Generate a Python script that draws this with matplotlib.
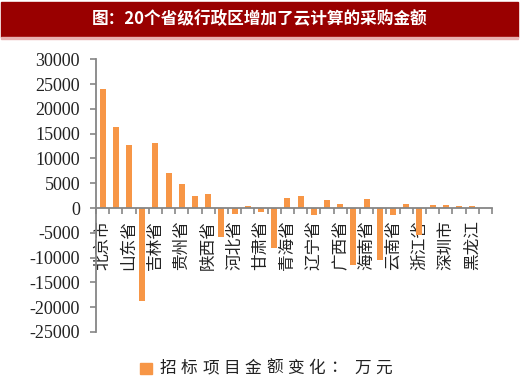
import matplotlib
matplotlib.use('Agg')
import matplotlib.pyplot as plt
import numpy as np
from matplotlib.patches import Rectangle

plt.rcParams['axes.unicode_minus'] = False

# 数据（万元），30个分类，横轴每隔一个显示名称
values = [24000, 16400, 12800, -18800, 13200, 7000, 4900, 2400, 2900, -5800,
          -1300, 500, -800, -8000, 2000, 2500, -1500, 1600, 800, -11400,
          1800, -10500, -1500, 800, -5400, 700, 600, 400, 500, 0]
labels = ['北京市', '山东省', '吉林省', '贵州省', '陕西省', '河北省', '甘肃省', '青海省',
          '辽宁省', '广西省', '海南省', '云南省', '浙江省', '深圳市', '黑龙江']
yticks = list(range(-25000, 30001, 5000))
title = '图：20个省级行政区增加了云计算的采购金额'
legend_label = '招标项目金额变化：万元'

W, H = 520, 386
fig = plt.figure(figsize=(W / 100, H / 100), dpi=100)
cjk = ['Noto Sans CJK SC', 'DejaVu Sans']
orange = '#F79646'
grey = '#868686'

# 标题栏
fig.patches.append(Rectangle((1 / W, 1 - 37 / H), 517 / W, 35 / H,
                             transform=fig.transFigure, color='#990000', zorder=0))
fig.patches.append(Rectangle((1 / W, 1 - 38.5 / H), 517 / W, 1.2 / H,
                             transform=fig.transFigure, color='#e8b0b0', zorder=0))
fig.text(0.5, 1 - 19.5 / H, title, color='white', fontsize=12, fontweight='bold',
         family=cjk, ha='center', va='center')

ax = fig.add_axes([96 / W, 1 - 332 / H, 396 / W, (332 - 59.3) / H])
x = np.arange(len(values)) + 0.5
ax.bar(x, values, width=0.45, color=orange, zorder=2)
ax.set_xlim(0, len(values))
ax.set_ylim(-25000, 30000)

for s in ['top', 'right']:
    ax.spines[s].set_visible(False)
ax.spines['bottom'].set_position(('data', 0))
for s in ['left', 'bottom']:
    ax.spines[s].set_color(grey)
    ax.spines[s].set_linewidth(1.3)

ax.set_yticks(yticks)
ax.set_yticklabels([str(v) for v in yticks], family='Liberation Serif', fontsize=13,
                   color='#222222')
ax.tick_params(axis='y', direction='out', length=4.5, width=1.2, color=grey, pad=7)

ax.set_xticks(np.arange(0, len(values) + 1))
ax.set_xticklabels([])
ax.tick_params(axis='x', which='major', direction='out', length=4, width=1.2, color=grey)
ax.set_xticks(x[::2], minor=True)
ax.set_xticklabels(labels, minor=True, rotation=90, family=cjk, fontsize=12,
                   color='#222222')
ax.tick_params(axis='x', which='minor', length=0, pad=8.5)

# 图例
fig.patches.append(Rectangle((140 / W, 1 - 374 / H), 12 / W, 11 / H,
                             transform=fig.transFigure, color=orange))
xpos = 168
for ch in legend_label:
    if ch == '万':
        xpos += 6
    fig.text(xpos / W, 1 - 368 / H, ch, family=cjk, fontsize=12, color='#222222',
             ha='center', va='center')
    xpos += 21.3 if ch != '：' else 18

fig.savefig('out.png', dpi=100)
